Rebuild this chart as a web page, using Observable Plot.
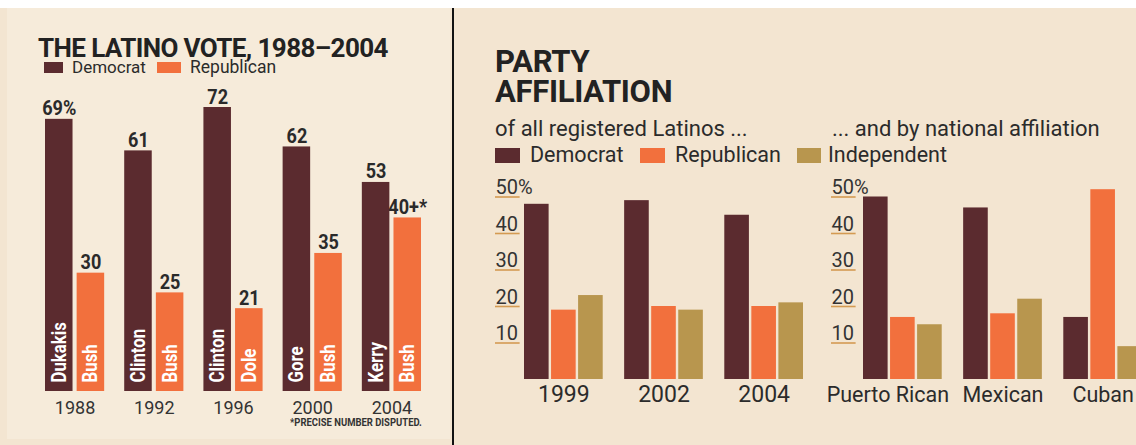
<!DOCTYPE html>
<html>
<head>
<meta charset="utf-8">
<script src="https://cdn.jsdelivr.net/npm/d3@7"></script>
<script src="https://cdn.jsdelivr.net/npm/@observablehq/plot@0.6"></script>
<style>
  html, body { margin: 0; padding: 0; background: #fff; }
  #page { position: relative; width: 1136px; height: 445px; overflow: hidden; background: #f3e5d1; font-family: Roboto, sans-serif; color: #2b2b2b; }
  .abs { position: absolute; white-space: nowrap; }
  svg.chart { position: absolute; top: 0; overflow: visible; }
</style>
</head>
<body>
<div id="page">
  <div class="abs" style="left:0;top:0;width:1136px;height:8px;background:#fff;"></div>
  <div class="abs" style="left:7px;top:8px;width:443px;height:431px;background:#f6ebda;"></div>
  <div class="abs" style="left:452px;top:8px;width:2px;height:437px;background:#111;"></div>

  <div class="abs" style="left:38px;top:38px;font-size:26px;line-height:20px;font-weight:700;letter-spacing:-0.6px;color:#222;">THE LATINO VOTE, 1988–2004</div>
  <div class="abs" style="left:44px;top:62px;width:19px;height:11px;background:#5b2b2f;"></div>
  <div class="abs" style="left:72px;top:60px;font-size:17px;line-height:14px;">Democrat</div>
  <div class="abs" style="left:157px;top:62px;width:24px;height:11px;background:#f2703d;"></div>
  <div class="abs" style="left:190px;top:60px;font-size:17.5px;line-height:14px;">Republican</div>
  <div class="abs" style="left:290px;top:418px;font-size:11px;line-height:10px;font-weight:700;color:#333;transform:scaleX(0.86);transform-origin:0 0;">*PRECISE NUMBER DISPUTED.</div>

  <div class="abs" style="left:495px;top:50px;font-size:31px;line-height:24px;font-weight:700;letter-spacing:-0.3px;color:#222;">PARTY</div>
  <div class="abs" style="left:495px;top:80px;font-size:31px;line-height:24px;font-weight:700;letter-spacing:-0.3px;color:#222;">AFFILIATION</div>
  <div class="abs" style="left:495px;top:120px;font-size:22px;line-height:18px;">of all registered Latinos ...</div>
  <div class="abs" style="left:832px;top:120px;font-size:22px;line-height:18px;">... and by national affiliation</div>
  <div class="abs" style="left:495px;top:148px;width:25px;height:15px;background:#5b2b2f;"></div>
  <div class="abs" style="left:530px;top:146px;font-size:21.5px;line-height:18px;">Democrat</div>
  <div class="abs" style="left:640px;top:148px;width:25px;height:15px;background:#f2703d;"></div>
  <div class="abs" style="left:675px;top:146px;font-size:21.5px;line-height:18px;">Republican</div>
  <div class="abs" style="left:797px;top:148px;width:24px;height:15px;background:#b8964e;"></div>
  <div class="abs" style="left:828px;top:146px;font-size:21.5px;line-height:18px;">Independent</div>
</div>
<script>
// ---- Data ----
const parties = ["Democrat", "Republican", "Independent"];
const partyColors = ["#5b2b2f", "#f2703d", "#b8964e"];

const years = ["1988", "1992", "1996", "2000", "2004"];
const demVote = [69, 61, 72, 62, 53];
const repVote = [30, 25, 21, 35, 44];
const demLabels = ["69%", "61", "72", "62", "53"];
const repLabels = ["30", "25", "21", "35", "40+*"];
const demCandidates = ["Dukakis", "Clinton", "Clinton", "Gore", "Kerry"];
const repCandidates = ["Bush", "Bush", "Dole", "Bush", "Bush"];

const surveyYears = ["1999", "2002", "2004"];
const demByYear = [48, 49, 45];
const repByYear = [19, 20, 20];
const indByYear = [23, 19, 21];

const origins = ["Puerto Rican", "Mexican", "Cuban"];
const demByOrigin = [50, 47, 17];
const repByOrigin = [17, 18, 52];
const indByOrigin = [15, 22, 9];

const axisTicks = [10, 20, 30, 40, 50];
const tickLabels = ["10", "20", "30", "40", "50%"];

// ---- Helpers ----
const page = document.getElementById("page");

function place(svg, left) {
  svg.classList.add("chart");
  svg.style.left = left + "px";
  svg.style.background = "transparent";
  page.appendChild(svg);
}

// narrow some texts along their run to mimic a condensed face (svg must be in the DOM)
function condense(svg, strings, sx) {
  const set = new Set(strings);
  svg.querySelectorAll("text").forEach(el => {
    if (!set.has(el.textContent)) return;
    const len = el.getComputedTextLength();
    if (len > 0) {
      el.setAttribute("textLength", (len * sx).toFixed(2));
      el.setAttribute("lengthAdjust", "spacingAndGlyphs");
    }
  });
}

// ---- Chart 1: Latino vote ----
const voteRows = years.flatMap((y, i) => [
  {year: y, party: "Democrat", value: demVote[i], label: demLabels[i], name: demCandidates[i]},
  {year: y, party: "Republican", value: repVote[i], label: repLabels[i], name: repCandidates[i]}
]);

const chart1 = Plot.plot({
  width: 453, height: 445,
  marginLeft: 45, marginRight: 32, marginTop: 107, marginBottom: 54,
  style: {background: "transparent", overflow: "visible"},
  fx: {domain: years, paddingInner: 0.253, paddingOuter: 0, round: false, axis: null, label: null},
  x: {domain: ["Democrat", "Republican"], paddingInner: 0.13, paddingOuter: 0, round: false, axis: null},
  y: {domain: [0, 72], axis: null},
  color: {domain: parties, range: partyColors},
  marks: [
    Plot.barY(voteRows, {fx: "year", x: "party", y: "value", fill: "party"}),
    Plot.text(voteRows, {fx: "year", x: "party", y: "value", text: "label", dy: -4, lineAnchor: "bottom",
      fontSize: 21, fontWeight: "bold", fontFamily: "Roboto", fill: "#2a2a2a"}),
    Plot.text(voteRows, {fx: "year", x: "party", y: 0, text: "name", rotate: -90, textAnchor: "start", dy: -9,
      fontSize: 20, fontWeight: "bold", fontFamily: "Roboto", fill: "#fff"}),
    Plot.text(years, {fx: d => d, text: d => d, frameAnchor: "bottom", dy: 22, fontSize: 18, fontFamily: "Roboto", fill: "#333"})
  ]
});
place(chart1, 0);
condense(chart1, [...demLabels, ...repLabels], 0.86);
condense(chart1, [...demCandidates, ...repCandidates], 0.84);

// ---- Charts 2 & 3: party affiliation ----
function affiliationChart(groups, dem, rep, ind, opts) {
  const rows = groups.flatMap((g, i) => [
    {group: g, party: "Democrat", value: dem[i]},
    {group: g, party: "Republican", value: rep[i]},
    {group: g, party: "Independent", value: ind[i]}
  ]);
  const first = groups[0];
  const labelStyle = {frameAnchor: "bottom", dy: 22.5, fontSize: opts.labelSize, fontFamily: "Roboto", fill: "#2b2b2b"};
  return Plot.plot({
    width: opts.width, height: 445,
    marginLeft: opts.marginLeft, marginRight: opts.marginRight, marginTop: 196.5, marginBottom: 66,
    style: {background: "transparent", overflow: "visible"},
    fx: {domain: groups, paddingInner: 0.214, paddingOuter: 0, round: false, axis: null, label: null},
    x: {domain: parties, paddingInner: 0.09, paddingOuter: 0, round: false, axis: null},
    y: {domain: [0, 50], axis: null},
    color: {domain: parties, range: partyColors},
    marks: [
      Plot.tickY(axisTicks, {fx: () => first, x: () => "Democrat", y: d => d, dx: opts.tickDx, stroke: "#d49a52", strokeWidth: 1.6}),
      Plot.text(axisTicks, {fx: () => first, y: d => d, text: (d, i) => tickLabels[i], frameAnchor: "left", textAnchor: "start",
        lineAnchor: "bottom", dx: opts.tickDx, dy: -3, fontSize: 20, fontFamily: "Roboto", fill: "#333"}),
      Plot.barY(rows, {fx: "group", x: "party", y: "value", fill: "party"}),
      Plot.text(groups.slice(opts.firstDx ? 1 : 0), {fx: d => d, text: d => d, ...labelStyle}),
      opts.firstDx ? Plot.text([first], {fx: d => d, text: d => d, dx: opts.firstDx, ...labelStyle}) : null
    ]
  });
}

place(affiliationChart(surveyYears, demByYear, repByYear, indByYear,
  {width: 357, marginLeft: 71, marginRight: 7, tickDx: -29, labelSize: 23, firstDx: 0}), 453);
place(affiliationChart(origins, demByOrigin, repByOrigin, indByOrigin,
  {width: 332, marginLeft: 53, marginRight: 0, tickDx: -32, labelSize: 21.5, firstDx: -15}), 810);
</script>
</body>
</html>
